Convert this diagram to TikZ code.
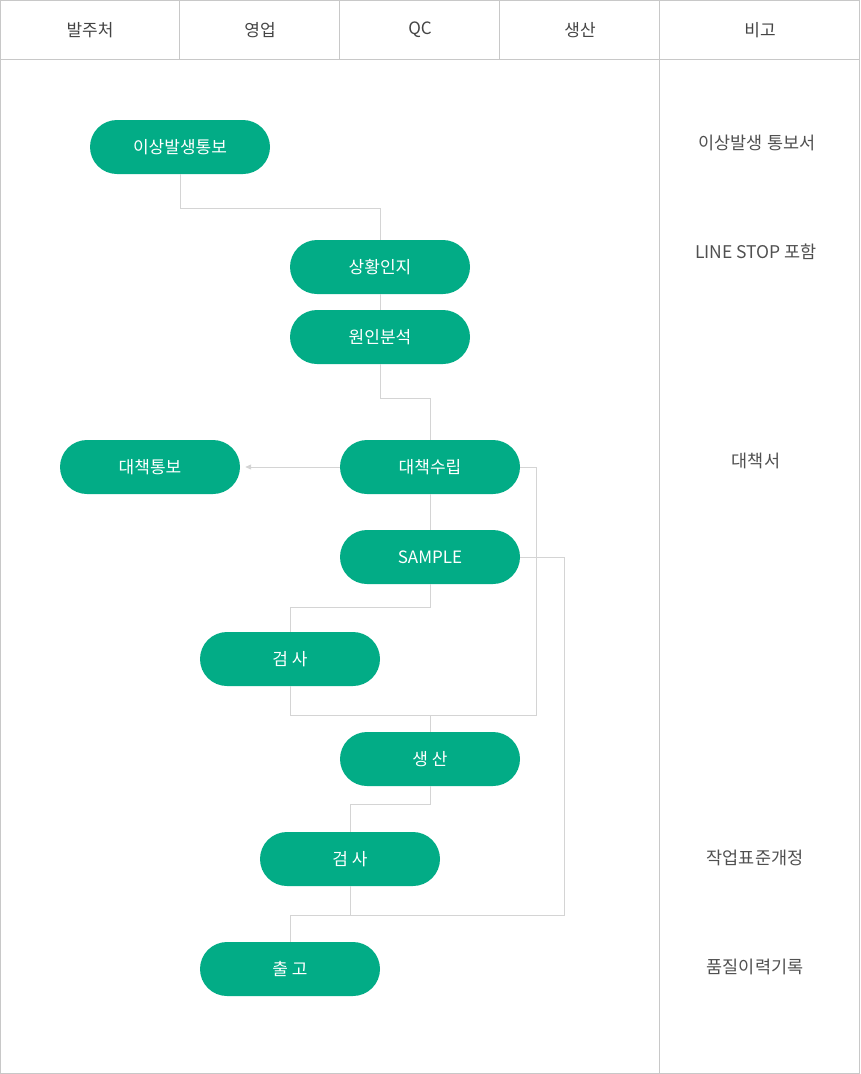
\documentclass[tikz,border=0pt]{standalone}
\usepackage{fontspec}
\setmainfont{Noto Sans CJK KR}
\usetikzlibrary{arrows.meta}
\definecolor{pill}{HTML}{02AC86}
\definecolor{conn}{HTML}{D4D4D4}
\definecolor{frame}{HTML}{C8C8C8}
\definecolor{headtxt}{HTML}{444444}
\definecolor{notetxt}{HTML}{505050}
\begin{document}
\begin{tikzpicture}[x=1pt,y=-1pt,
  pillbox/.style={rectangle, rounded corners=27pt, fill=pill, minimum width=180pt, minimum height=54pt, inner sep=0pt, text=white, font=\fontsize{17}{20}\selectfont},
  headtext/.style={text=headtxt, font=\fontsize{17}{20}\selectfont},
  notetext/.style={text=notetxt, font=\fontsize{17.5}{20}\selectfont},
  connline/.style={draw=conn, line width=1pt},
  framelines/.style={draw=frame, line width=1pt}]
\useasboundingbox (0,0) rectangle (860,1074);
% frame
\draw[framelines] (0.5,0.5) rectangle (859.5,1073.5);
\draw[framelines] (0.5,59.5) -- (859.5,59.5);
\draw[framelines] (179.5,0.5) -- (179.5,59.5);
\draw[framelines] (339.5,0.5) -- (339.5,59.5);
\draw[framelines] (499.5,0.5) -- (499.5,59.5);
\draw[framelines] (659.5,0.5) -- (659.5,1073.5);
% headers
\node[headtext] (h1) at (90,30) {발주처};
\node[headtext] (h2) at (260,30) {영업};
\node[headtext] (h3) at (420,30) {QC};
\node[headtext] (h4) at (580,30) {생산};
\node[headtext] (h5) at (760,30) {비고};
% notes
\node[notetext] (m1) at (757,143) {이상발생 통보서};
\node[notetext] (m2) at (756,252) {LINE STOP 포함};
\node[notetext] (m3) at (756,461) {대책서};
\node[notetext] (m4) at (755,858) {작업표준개정};
\node[notetext] (m5) at (755,967) {품질이력기록};
% nodes
\node[pillbox] (a) at (180,147) {이상발생통보};
\node[pillbox] (b) at (380,267) {상황인지};
\node[pillbox] (c) at (380,337) {원인분석};
\node[pillbox] (d) at (150,467) {대책통보};
\node[pillbox] (e) at (430,467) {대책수립};
\node[pillbox] (f) at (430,557) {SAMPLE};
\node[pillbox] (g) at (290,659) {검 사};
\node[pillbox] (h) at (430,759) {생 산};
\node[pillbox] (k) at (350,859) {검 사};
\node[pillbox] (o) at (290,969) {출 고};
% junctions
\coordinate (j1) at (536.5,715.5);
\coordinate (j2) at (564.5,915.5);
% connectors
\draw[connline] (a.south) -- ++(0,34) -| (b.north);
\draw[connline] (b.south) -- (c.north);
\draw[connline] (c.south) -- ++(0,34) -| (e.north);
\draw[connline, -{Triangle[length=6pt,width=5pt]}] (e.west) -- ([xshift=5pt]d.east);
\draw[connline] (e.south) -- (f.north);
\draw[connline] (e.east) -| (j1);
\draw[connline] (f.south) -- ++(0,23) -| (g.north);
\draw[connline] (g.south) |- (j1);
\draw[connline] (h.north) -- (h.north |- j1);
\draw[connline] (f.east) -| (j2);
\draw[connline] (h.south) -- ++(0,18) -| (k.north);
\draw[connline] (k.south) -- (k.south |- j2);
\draw[connline] (o.north) |- (j2);
\end{tikzpicture}
\end{document}
